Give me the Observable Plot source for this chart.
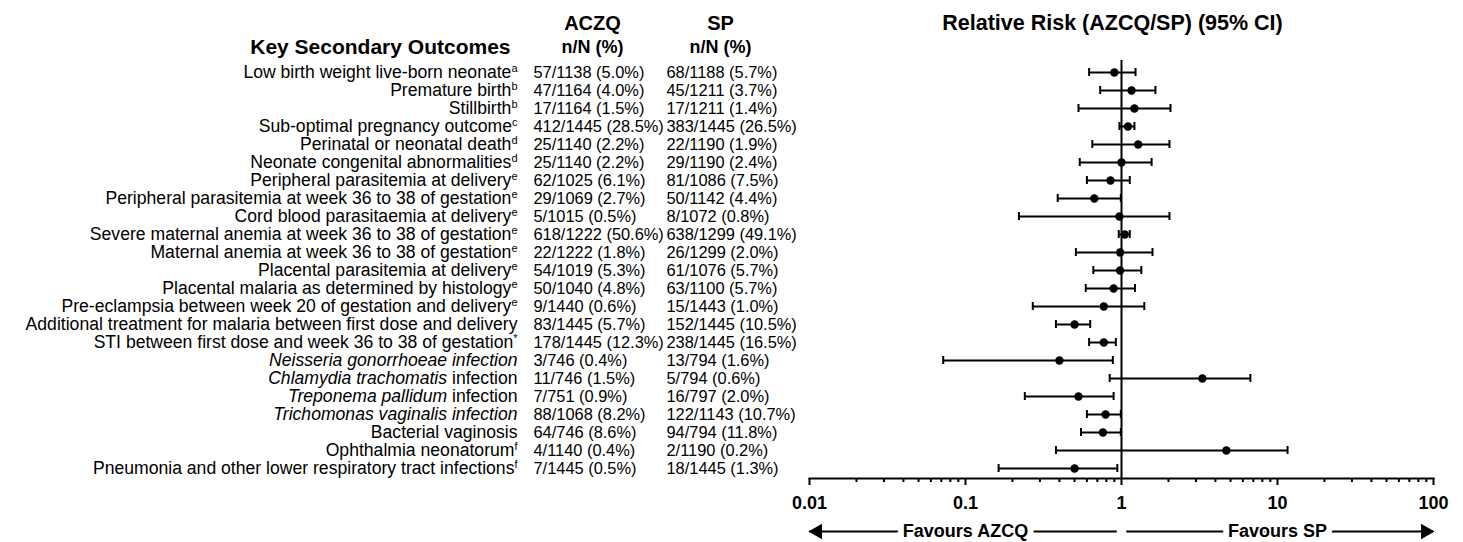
<!DOCTYPE html>
<html><head><meta charset="utf-8">
<script src="https://cdn.jsdelivr.net/npm/d3@7"></script>
<script src="https://cdn.jsdelivr.net/npm/@observablehq/plot@0.6"></script>
<style>
html,body{margin:0;padding:0;background:#fff;}
#chart svg{display:block;}
</style></head><body><div id="chart"></div>
<script>
const outcomes = [
  "Low birth weight live-born neonate",
  "Premature birth",
  "Stillbirth",
  "Sub-optimal pregnancy outcome",
  "Perinatal or neonatal death",
  "Neonate congenital abnormalities",
  "Peripheral parasitemia at delivery",
  "Peripheral parasitemia at week 36 to 38 of gestation",
  "Cord blood parasitaemia at delivery",
  "Severe maternal anemia at week 36 to 38 of gestation",
  "Maternal anemia at week 36 to 38 of gestation",
  "Placental parasitemia at delivery",
  "Placental malaria as determined by histology",
  "Pre-eclampsia between week 20 of gestation and delivery",
  "Additional treatment for malaria between first dose and delivery",
  "STI between first dose and week 36 to 38 of gestation",
  "Neisseria gonorrhoeae infection",
  "Chlamydia trachomatis infection",
  "Treponema pallidum infection",
  "Trichomonas vaginalis infection",
  "Bacterial vaginosis",
  "Ophthalmia neonatorum",
  "Pneumonia and other lower respiratory tract infections"
];
const notes = ["a","b","b","c","d","d","e","e","e","e","e","e","e","e","","*","","","","","","f","f"];
const italicParts = ["","","","","","","","","","","","","","","","",
  "Neisseria gonorrhoeae infection","Chlamydia trachomatis","Treponema pallidum","Trichomonas vaginalis infection","","",""];
const aczq = ["57/1138 (5.0%)","47/1164 (4.0%)","17/1164 (1.5%)","412/1445 (28.5%)","25/1140 (2.2%)","25/1140 (2.2%)",
  "62/1025 (6.1%)","29/1069 (2.7%)","5/1015 (0.5%)","618/1222 (50.6%)","22/1222 (1.8%)","54/1019 (5.3%)",
  "50/1040 (4.8%)","9/1440 (0.6%)","83/1445 (5.7%)","178/1445 (12.3%)","3/746 (0.4%)","11/746 (1.5%)",
  "7/751 (0.9%)","88/1068 (8.2%)","64/746 (8.6%)","4/1140 (0.4%)","7/1445 (0.5%)"];
const sp = ["68/1188 (5.7%)","45/1211 (3.7%)","17/1211 (1.4%)","383/1445 (26.5%)","22/1190 (1.9%)","29/1190 (2.4%)",
  "81/1086 (7.5%)","50/1142 (4.4%)","8/1072 (0.8%)","638/1299 (49.1%)","26/1299 (2.0%)","61/1076 (5.7%)",
  "63/1100 (5.7%)","15/1443 (1.0%)","152/1445 (10.5%)","238/1445 (16.5%)","13/794 (1.6%)","5/794 (0.6%)",
  "16/797 (2.0%)","122/1143 (10.7%)","94/794 (11.8%)","2/1190 (0.2%)","18/1445 (1.3%)"];
const rr = [0.9, 1.16, 1.21, 1.1, 1.28, 1.0, 0.85, 0.67, 0.97, 1.05, 0.98, 0.98, 0.89, 0.77, 0.5, 0.77, 0.40, 3.3, 0.53, 0.79, 0.76, 4.7, 0.5];
const lo = [0.62, 0.73, 0.53, 0.97, 0.65, 0.54, 0.6, 0.39, 0.22, 0.96, 0.51, 0.66, 0.59, 0.27, 0.38, 0.62, 0.072, 0.84, 0.24, 0.6, 0.55, 0.38, 0.163];
const hi = [1.23, 1.65, 2.06, 1.21, 2.03, 1.56, 1.13, 0.99, 2.03, 1.13, 1.58, 1.34, 1.22, 1.4, 0.63, 0.92, 0.88, 6.7, 0.89, 0.99, 0.99, 11.6, 0.94];

const majorTicks = [0.01, 0.1, 1, 10, 100];
const decades = [0.01, 0.1, 1, 10];
const minorMultipliers = [2, 3, 4, 5, 6, 7, 8, 9];
const favourLabels = ["Favours AZCQ", "Favours SP"];
const favourAt = [0.1, 10];
const arrowFrom = [0.94, 1.08];
const arrowTo = [0.01, 100];

const minorTicks = decades.flatMap(d => minorMultipliers.map(m => d * m));
const rows = outcomes.map((o, i) => ({outcome: o, label: o + notes[i], aczq: aczq[i], sp: sp[i], rr: rr[i], lo: lo[i], hi: hi[i]}));
const last = outcomes[outcomes.length - 1];
const favours = favourLabels.map((l, i) => ({label: l, at: favourAt[i], from: arrowFrom[i], to: arrowTo[i]}));
const font = "'Liberation Sans', Arial, Helvetica, sans-serif";

const chart = Plot.plot({
  width: 1463, height: 542,
  marginLeft: 809, marginRight: 30, marginTop: 60, marginBottom: 64,
  style: {fontFamily: font, color: "#000", background: "#fff", overflow: "visible"},
  x: {type: "log", domain: [0.01, 100], axis: null},
  y: {type: "point", domain: outcomes, range: [72, 468], padding: 0, axis: null},
  marks: [
    Plot.ruleX([1], {stroke: "#000", strokeWidth: 2}),
    Plot.ruleY(rows, {y: "outcome", x1: "lo", x2: "hi", stroke: "#000", strokeWidth: 2}),
    Plot.ruleX(rows, {x: "lo", y1: "outcome", y2: "outcome", insetTop: -4, insetBottom: -4, stroke: "#000", strokeWidth: 2}),
    Plot.ruleX(rows, {x: "hi", y1: "outcome", y2: "outcome", insetTop: -4, insetBottom: -4, stroke: "#000", strokeWidth: 2}),
    Plot.dot(rows, {y: "outcome", x: "rr", r: 4.2, fill: "#000", stroke: "none"}),
    Plot.frame({anchor: "bottom", stroke: "#000", strokeWidth: 2}),
    Plot.axisX({ticks: majorTicks, tickSize: 7, strokeWidth: 2, tickPadding: 11, fontSize: 18, fontWeight: "bold", tickFormat: d => String(d)}),
    Plot.axisX({ticks: minorTicks, tickSize: 4, strokeWidth: 2, text: null}),
    // table text
    Plot.text(rows, {y: "outcome", text: "label", frameAnchor: "left", dx: -292, textAnchor: "end", lineAnchor: "middle", fontSize: 17.6, className: "outcome-label"}),
    Plot.text(rows, {y: "outcome", text: "aczq", frameAnchor: "left", dx: -276, textAnchor: "start", lineAnchor: "middle", fontSize: 16.4}),
    Plot.text(rows, {y: "outcome", text: "sp", frameAnchor: "left", dx: -143, textAnchor: "start", lineAnchor: "middle", fontSize: 16.4}),
    // headers
    Plot.text(["ACZQ"], {frameAnchor: "top-left", dx: -217, dy: -37, textAnchor: "middle", lineAnchor: "middle", fontSize: 20, fontWeight: "bold"}),
    Plot.text(["n/N (%)"], {frameAnchor: "top-left", dx: -217, dy: -13, textAnchor: "middle", lineAnchor: "middle", fontSize: 18, fontWeight: "bold"}),
    Plot.text(["SP"], {frameAnchor: "top-left", dx: -89, dy: -37, textAnchor: "middle", lineAnchor: "middle", fontSize: 20, fontWeight: "bold"}),
    Plot.text(["n/N (%)"], {frameAnchor: "top-left", dx: -89, dy: -13, textAnchor: "middle", lineAnchor: "middle", fontSize: 18, fontWeight: "bold"}),
    Plot.text(["Key Secondary Outcomes"], {frameAnchor: "top-left", dx: -299, dy: -13, textAnchor: "end", lineAnchor: "middle", fontSize: 21, fontWeight: "bold"}),
    Plot.text(["Relative Risk (AZCQ/SP) (95% CI)"], {frameAnchor: "top-left", dx: 303, dy: -37, textAnchor: "middle", lineAnchor: "middle", fontSize: 21.5, fontWeight: "bold"}),
    // favours arrows
    Plot.ruleY(favours, {y: () => last, x1: "from", x2: "to", dy: 63, stroke: "#000", strokeWidth: 2}),
    Plot.dot(favours.slice(0, 1), {y: () => last, x: "to", dy: 63, dx: 8, symbol: "triangle", r: 5.8, rotate: -90, fill: "#000", stroke: "none"}),
    Plot.dot(favours.slice(1), {y: () => last, x: "to", dy: 63, dx: -8, symbol: "triangle", r: 5.8, rotate: 90, fill: "#000", stroke: "none"}),
    Plot.text(favours, {x: "at", text: "label", frameAnchor: "bottom", dy: 53, textAnchor: "middle", lineAnchor: "middle", fontSize: 18, fontWeight: "bold", fill: "#000", stroke: "#fff", strokeWidth: 12})
  ]
});

// style superscripts and italic species names as tspans
d3.select(chart).selectAll(".outcome-label text").each(function () {
  const t = this.textContent;
  const i = rows.findIndex(r => r.label === t);
  if (i < 0) return;
  const el = d3.select(this);
  el.text(null);
  const it = italicParts[i];
  if (it) el.append("tspan").attr("font-style", "italic").text(it);
  const rest = outcomes[i].slice(it.length);
  if (rest) el.append("tspan").text(rest);
  if (notes[i]) el.append("tspan").attr("font-size", 11).attr("dy", -6).text(notes[i]);
});

document.getElementById("chart").appendChild(chart);
</script>
</body></html>
